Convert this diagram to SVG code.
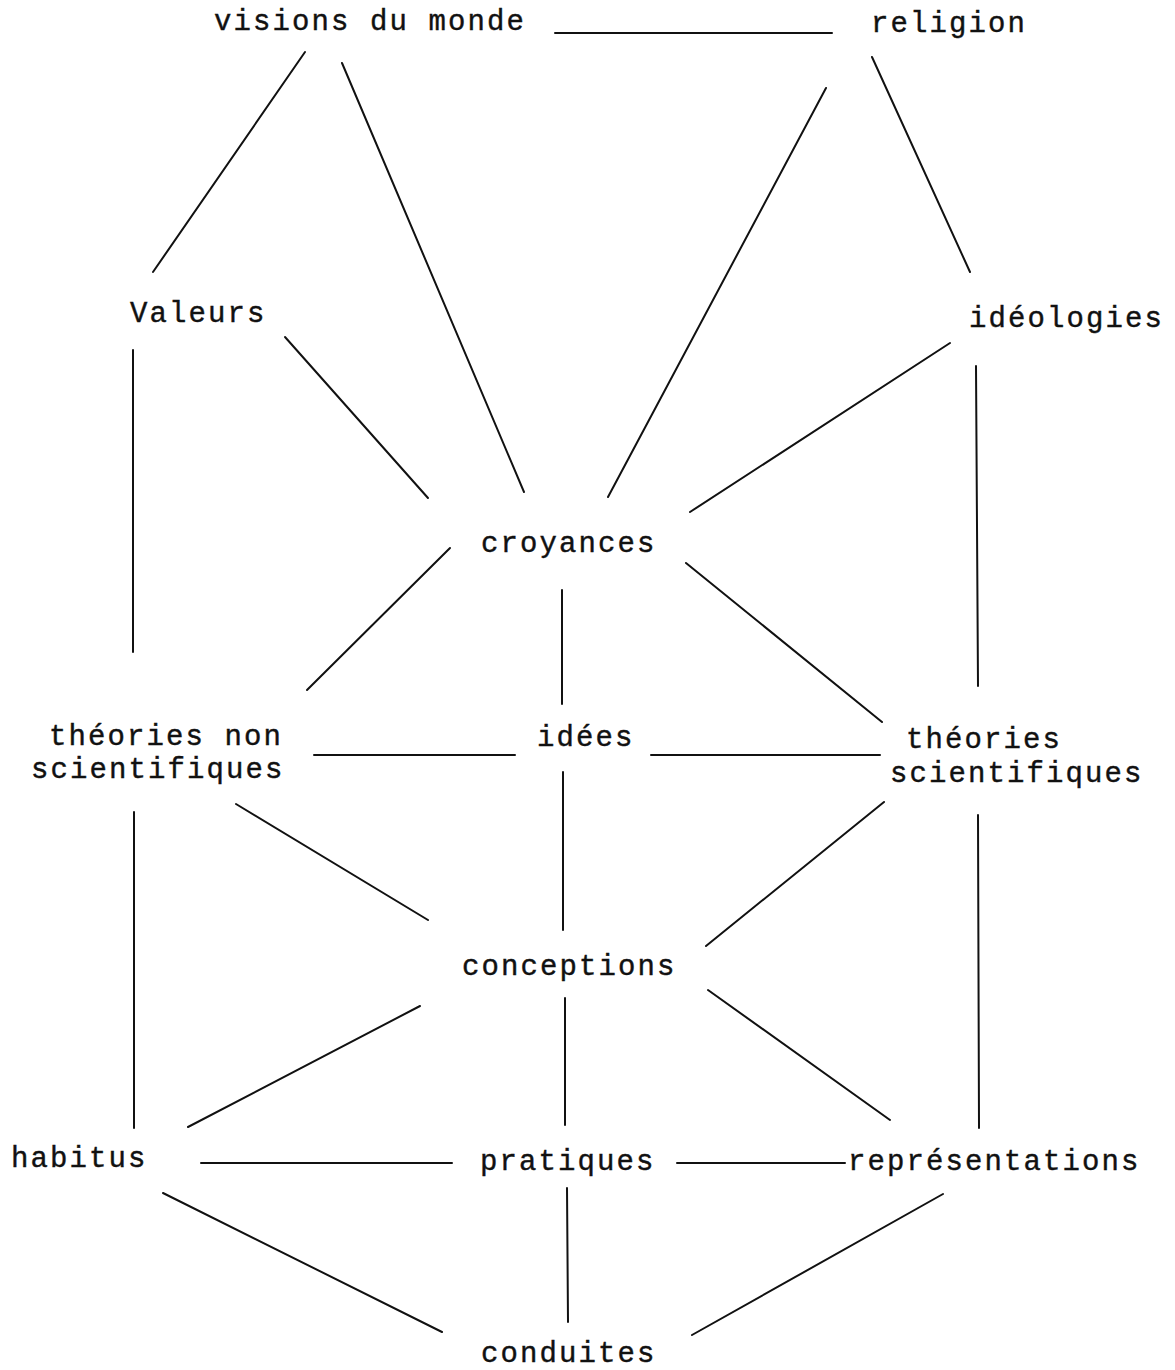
<svg xmlns="http://www.w3.org/2000/svg" width="1175" height="1370" viewBox="0 0 1175 1370">
<style>
text{font-family:"Liberation Mono","DejaVu Sans Mono",monospace;font-size:29px;letter-spacing:2.1px;fill:#111;stroke:#111;stroke-width:0.4}
.c line{stroke:#111;stroke-width:2;stroke-linecap:round}
</style>
<rect width="1175" height="1370" fill="#fff"/>
<g class="c" id="connectors">
<line x1="555" y1="33" x2="832" y2="33"/>
<line x1="305" y1="52" x2="153" y2="272"/>
<line x1="342" y1="63" x2="524" y2="492"/>
<line x1="826" y1="88" x2="608" y2="497"/>
<line x1="872" y1="57" x2="970" y2="272"/>
<line x1="285" y1="337" x2="428" y2="498"/>
<line x1="133" y1="350" x2="133" y2="652"/>
<line x1="950" y1="343" x2="690" y2="512"/>
<line x1="976" y1="366" x2="978" y2="686"/>
<line x1="450" y1="548" x2="307" y2="690"/>
<line x1="562" y1="590" x2="562" y2="704"/>
<line x1="686" y1="563" x2="882" y2="722"/>
<line x1="314" y1="755" x2="515" y2="755"/>
<line x1="651" y1="755" x2="880" y2="755"/>
<line x1="563" y1="772" x2="563" y2="930"/>
<line x1="236" y1="804" x2="428" y2="920"/>
<line x1="134" y1="812" x2="134" y2="1128"/>
<line x1="884" y1="802" x2="706" y2="946"/>
<line x1="978" y1="815" x2="979" y2="1128"/>
<line x1="420" y1="1006" x2="188" y2="1127"/>
<line x1="565" y1="998" x2="565" y2="1125"/>
<line x1="708" y1="990" x2="890" y2="1120"/>
<line x1="201" y1="1163" x2="452" y2="1163"/>
<line x1="677" y1="1163" x2="845" y2="1163"/>
<line x1="163" y1="1193" x2="442" y2="1332"/>
<line x1="567" y1="1188" x2="568" y2="1322"/>
<line x1="943" y1="1194" x2="692" y2="1335"/>
</g>
<g id="visions"><text x="214" y="30">visions du monde</text></g>
<g id="religion"><text x="871" y="32">religion</text></g>
<g id="valeurs"><text x="130" y="322">Valeurs</text></g>
<g id="ideologies"><text x="969" y="327">idéologies</text></g>
<g id="croyances"><text x="481" y="552">croyances</text></g>
<g id="theories-non"><text x="49" y="745">théories non</text><text x="31" y="778">scientifiques</text></g>
<g id="idees"><text x="537" y="746">idées</text></g>
<g id="theories-sci"><text x="906" y="748">théories</text><text x="890" y="782">scientifiques</text></g>
<g id="conceptions"><text x="462" y="975">conceptions</text></g>
<g id="habitus"><text x="11" y="1167">habitus</text></g>
<g id="pratiques"><text x="480" y="1170">pratiques</text></g>
<g id="representations"><text x="848" y="1170">représentations</text></g>
<g id="conduites"><text x="481" y="1362">conduites</text></g>
</svg>
